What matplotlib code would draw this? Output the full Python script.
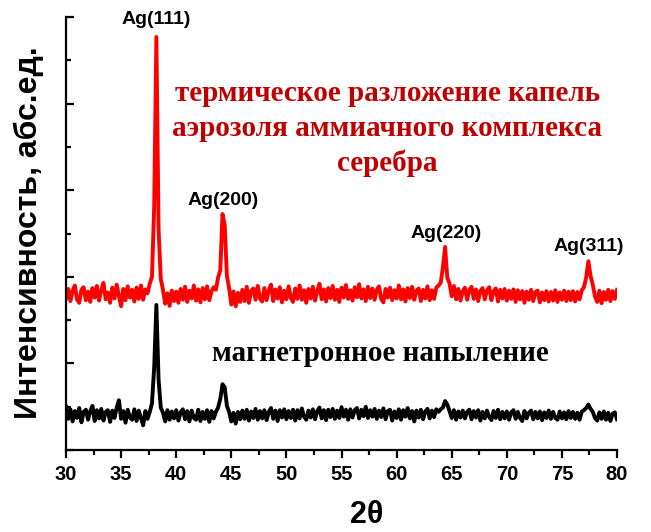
import numpy as np
import matplotlib
matplotlib.use("Agg")
import matplotlib.pyplot as plt
from matplotlib.ticker import MultipleLocator

# scan grid, 0.2 deg step
two_theta = np.arange(30.0, 80.0001, 0.2)

# thermal decomposition of aerosol droplets (red, upper)
aerosol = [
    3.50, 3.72, 3.44, 3.68, 3.80, 3.48, 3.40, 3.70, 3.76, 3.46,
    3.66, 3.42, 3.74, 3.52, 3.79, 3.45, 3.69, 3.86, 3.48, 3.64,
    3.40, 3.75, 3.50, 3.82, 3.56, 3.32, 3.72, 3.46, 3.78, 3.52,
    3.70, 3.43, 3.75, 3.49, 3.80, 3.47, 3.71, 3.62, 3.84, 4.00,
    5.60, 9.54, 5.10, 3.95, 3.70, 3.38, 3.62, 3.33, 3.68, 3.44,
    3.66, 3.40, 3.72, 3.47, 3.77, 3.42, 3.68, 3.50, 3.80, 3.45,
    3.71, 3.41, 3.74, 3.48, 3.78, 3.46, 3.66, 3.76, 3.70, 3.98,
    4.15, 5.45, 5.20, 4.02, 3.74, 3.36, 3.66, 3.32, 3.63, 3.42,
    3.70, 3.44, 3.77, 3.40, 3.68, 3.73, 3.47, 3.79, 3.50, 3.43,
    3.74, 3.46, 3.69, 3.82, 3.44, 3.71, 3.50, 3.76, 3.41, 3.68,
    3.48, 3.78, 3.52, 3.42, 3.73, 3.49, 3.80, 3.47, 3.69, 3.40,
    3.72, 3.50, 3.77, 3.45, 3.68, 3.84, 3.48, 3.71, 3.43, 3.74,
    3.51, 3.79, 3.47, 3.70, 3.42, 3.75, 3.52, 3.81, 3.49, 3.69,
    3.45, 3.76, 3.53, 3.83, 3.50, 3.71, 3.44, 3.77, 3.51, 3.73,
    3.47, 3.70, 3.78, 3.49, 3.41, 3.72, 3.52, 3.75, 3.46, 3.69,
    3.50, 3.80, 3.48, 3.71, 3.43, 3.74, 3.51, 3.77, 3.47, 3.68,
    3.73, 3.44, 3.70, 3.50, 3.78, 3.46, 3.69, 3.49, 3.75, 3.80,
    3.86, 4.22, 4.69, 3.98, 3.85, 3.55, 3.79, 3.48, 3.72, 3.45,
    3.67, 3.75, 3.47, 3.70, 3.77, 3.49, 3.71, 3.44, 3.68, 3.74,
    3.48, 3.69, 3.76, 3.46, 3.67, 3.73, 3.43, 3.70, 3.50, 3.72,
    3.45, 3.68, 3.49, 3.71, 3.42, 3.69, 3.48, 3.67, 3.40, 3.66,
    3.47, 3.70, 3.44, 3.65, 3.68, 3.41, 3.64, 3.46, 3.67, 3.43,
    3.65, 3.45, 3.69, 3.42, 3.64, 3.47, 3.68, 3.44, 3.66, 3.46,
    3.67, 3.43, 3.65, 3.48, 3.69, 3.76, 3.98, 4.36, 4.02, 3.82,
    3.55, 3.42, 3.68, 3.39, 3.65, 3.47, 3.70, 3.44, 3.67, 3.49, 3.70,
]

# magnetron sputtering (black, lower)
magnetron = [
    1.00, 0.72, 0.94, 0.66, 0.90, 0.74, 0.97, 0.64, 0.88, 0.93,
    0.70, 0.90, 1.02, 0.67, 0.92, 0.73, 0.95, 0.68, 0.88, 0.92,
    0.65, 0.91, 0.74, 0.98, 1.15, 0.72, 0.90, 0.63, 0.93, 0.75,
    0.70, 0.94, 0.67, 0.91, 0.74, 0.57, 0.90, 0.72, 0.88, 1.08,
    1.90, 3.35, 1.62, 0.98, 0.86, 0.66, 0.92, 0.70, 0.89, 0.73,
    0.92, 0.68, 0.87, 0.94, 0.71, 0.90, 0.66, 0.91, 0.74, 0.70,
    0.93, 0.67, 0.88, 0.72, 0.92, 0.65, 0.90, 0.73, 0.88, 0.98,
    1.18, 1.52, 1.45, 1.02, 0.88, 0.66, 0.86, 0.61, 0.88, 0.71,
    0.91, 0.72, 0.93, 0.68, 0.89, 0.74, 0.95, 0.70, 0.90, 0.73,
    0.92, 0.69, 0.88, 0.97, 0.72, 0.91, 0.67, 0.92, 0.75, 0.94,
    0.71, 0.90, 0.74, 0.93, 0.68, 0.92, 0.73, 0.96, 0.77, 0.70,
    0.91, 0.75, 0.94, 0.71, 0.90, 0.98, 0.73, 0.92, 0.69, 0.93,
    0.76, 0.95, 0.72, 0.91, 0.74, 0.99, 0.77, 0.93, 0.70, 0.94,
    0.75, 0.92, 0.97, 0.73, 0.93, 0.78, 1.00, 0.74, 0.92, 0.77,
    0.95, 0.72, 0.91, 0.76, 0.96, 0.71, 0.90, 0.93, 0.68, 0.89,
    0.74, 0.94, 0.70, 0.92, 0.77, 0.97, 0.73, 0.90, 0.66, 0.91,
    0.75, 0.93, 0.71, 0.89, 0.95, 0.73, 0.91, 0.76, 0.94, 0.88,
    0.94, 0.98, 1.13, 1.05, 0.90, 0.74, 0.92, 0.70, 0.89, 0.75,
    0.91, 0.73, 0.88, 0.93, 0.71, 0.90, 0.75, 0.92, 0.68, 0.88,
    0.73, 0.91, 0.76, 0.69, 0.90, 0.74, 0.93, 0.71, 0.88, 0.73,
    0.89, 0.70, 0.87, 0.92, 0.72, 0.88, 0.74, 0.67, 0.90, 0.73,
    0.86, 0.91, 0.71, 0.88, 0.73, 0.89, 0.69, 0.87, 0.74, 0.91,
    0.72, 0.88, 0.74, 0.70, 0.89, 0.73, 0.87, 0.71, 0.90, 0.74,
    0.88, 0.72, 0.86, 0.70, 0.89, 0.92, 0.97, 1.05, 0.95, 0.88,
    0.74, 0.68, 0.87, 0.72, 0.89, 0.70, 0.86, 0.67, 0.84, 0.87, 0.71,
]

peak_names = ["Ag(111)", "Ag(200)", "Ag(220)", "Ag(311)"]
peak_pos = [38.2, 44.3, 64.5, 77.4]
peak_label_y = [9.95, 5.77, 5.01, 4.69]

sans = ["Liberation Sans", "DejaVu Sans"]
serif = ["Liberation Serif", "DejaVu Serif"]

fig = plt.figure(figsize=(6.51, 5.32), dpi=100)
ax = fig.add_axes([0.1014, 0.1541, 0.8464, 0.8139])

ax.plot(two_theta, aerosol, color="#ff0000", lw=2.8)
ax.plot(two_theta, magnetron, color="black", lw=2.8)

for name, xp, yp in zip(peak_names, peak_pos, peak_label_y):
    ax.text(xp, yp, name, ha="center", va="center", fontsize=14,
            fontweight="bold", family=sans)

ax.text(0.583, 0.742, "термическое разложение капель\nаэрозоля аммиачного комплекса\nсеребра",
        transform=ax.transAxes, ha="center", va="center", fontsize=21,
        fontweight="bold", family=serif, color="#c00000", linespacing=1.36)
ax.text(0.570, 0.224, "магнетронное напыление", transform=ax.transAxes,
        ha="center", va="center", fontsize=21, fontweight="bold",
        family=serif, color="black")

ax.set_xlim(30, 80)
ax.set_ylim(0, 10)
ax.xaxis.set_major_locator(MultipleLocator(5))
ax.xaxis.set_minor_locator(MultipleLocator(2.5))
ax.yaxis.set_major_locator(MultipleLocator(2))
ax.yaxis.set_minor_locator(MultipleLocator(1))

ax.spines["top"].set_visible(False)
ax.spines["right"].set_visible(False)
for s in ["left", "bottom"]:
    ax.spines[s].set_linewidth(1.6)

ax.tick_params(axis="x", which="major", direction="out", length=6, width=1.6, pad=5)
ax.tick_params(axis="x", which="minor", direction="out", length=3.5, width=1.6)
ax.tick_params(axis="y", which="major", direction="in", length=6, width=1.6,
               labelleft=False)
ax.tick_params(axis="y", which="minor", direction="in", length=3.5, width=1.6)

for lab in ax.get_xticklabels():
    lab.set_fontfamily(sans)
    lab.set_fontweight("bold")
    lab.set_fontsize(14.5)

fig.text(367 / 651, 1 - 515 / 532, "2θ", ha="center", va="center",
         fontsize=22, fontweight="bold", family=sans)
fig.text(29 / 651, 1 - 233 / 532, "Интенсивность, абс.ед.", rotation=90,
         ha="center", va="center", fontsize=23, fontweight="bold", family=sans)

fig.savefig("out.png", dpi=100)
